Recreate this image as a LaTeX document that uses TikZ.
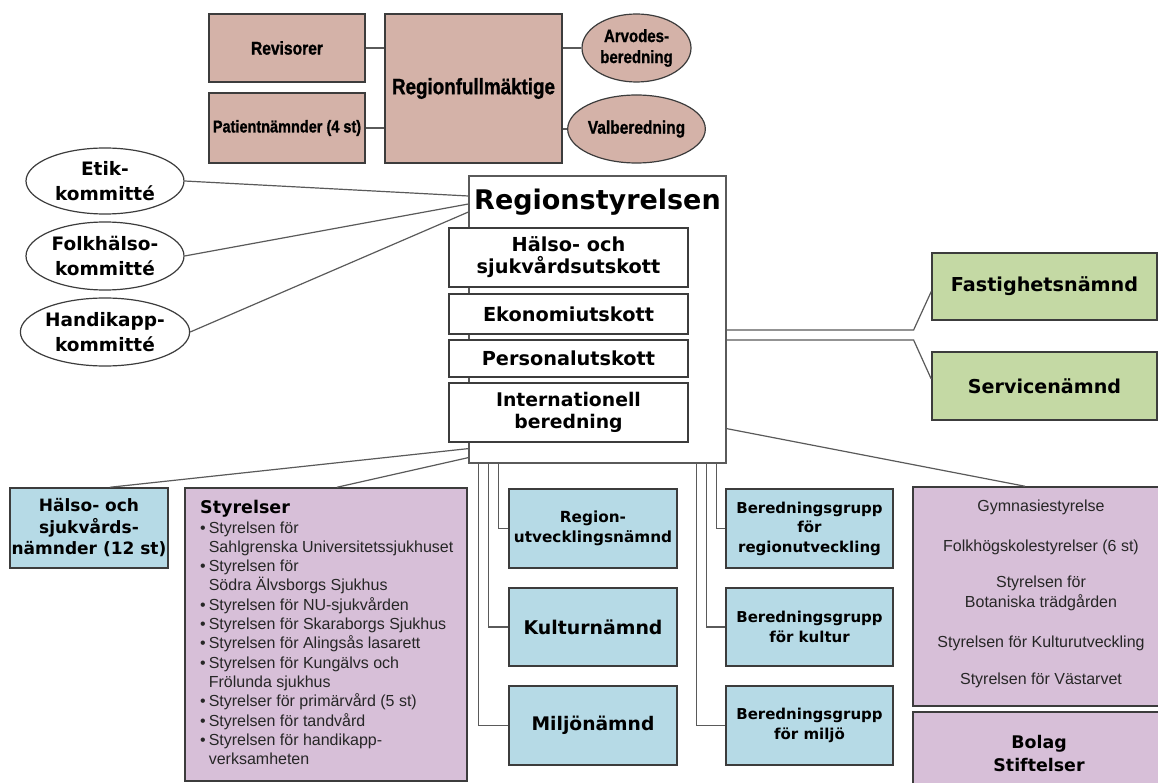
\documentclass[tikz,border=0pt]{standalone}
\usepackage{fontspec}
\usepackage{graphicx}
\usetikzlibrary{shapes.geometric,calc}
\newfontfamily\dv{DejaVu Sans}
\newfontfamily\lib{Liberation Sans}
\newfontfamily\libh{Liberation Sans}[BoldFeatures={FakeBold=1.2}]
\definecolor{cbrown}{HTML}{D4B2A8}
\definecolor{cgreen}{HTML}{C4D9A4}
\definecolor{cblue}{HTML}{B6DAE6}
\definecolor{cpurple}{HTML}{D7BFD8}
\definecolor{cline}{HTML}{5A5A5A}
\definecolor{cborder}{HTML}{3C3C3C}
\newcommand{\fsz}[2]{\fontsize{#1}{#2}\selectfont}
\newcommand{\tall}[1]{\scalebox{1}[1.18]{#1}}
\begin{document}
\begin{tikzpicture}[x=1pt,y=-1pt,
  box/.style={draw=cborder, line width=1.5pt, rectangle, inner sep=0pt, align=center},
  ebox/.style={draw=cborder, line width=1.2pt, ellipse, inner sep=0pt, align=center},
  conn/.style={draw=cline, line width=1.2pt},
  topfont/.style={font=\libh\bfseries\fsz{#1}{22}},
  bfont/.style={font=\dv\bfseries\fsz{#1}{21}},
]
\useasboundingbox (0,0) rectangle (1158,783);
\fill[white] (0,0) rectangle (1158,783);
\clip (0,0) rectangle (1158,783);

% top row
\node[box, fill=cbrown, minimum width=156, minimum height=68, topfont=15.6] (rev) at (287,48) {\tall{Revisorer}};
\node[box, fill=cbrown, minimum width=156, minimum height=70, topfont=14.5] (pat) at (287,128) {\tall{Patientnämnder (4 st)}};
\node[box, fill=cbrown, minimum width=177, minimum height=149, topfont=18.8] (rf) at (473.5,88.5) {\tall{Regionfullmäktige}};
\node[ebox, fill=cbrown, minimum width=109, minimum height=68, topfont=15] (arv) at (636.5,48) {\tall{Arvodes-}\\[-1pt]\tall{beredning}};
\node[ebox, fill=cbrown, minimum width=109, minimum height=68, topfont=15.5] (val) at (636.5,129) {\tall{Valberedning}};

% left ellipses
\node[ebox, fill=white, minimum width=158, minimum height=66, font=\dv\bfseries\fsz{18.5}{25}] (etik) at (105,181) {Etik-\\kommitté};
\node[ebox, fill=white, minimum width=158, minimum height=68, font=\dv\bfseries\fsz{18.5}{25}] (folk) at (105,256) {Folkhälso-\\kommitté};
\node[ebox, fill=white, minimum width=158, minimum height=68, font=\dv\bfseries\fsz{18.5}{25}] (handi) at (105,332) {Handikapp-\\kommitté};

% Regionstyrelsen
\node[draw=cline, line width=1.2pt, fill=white, minimum width=257, minimum height=287, inner sep=0pt] (rs) at (597.5,319.5) {};
\node[font=\dv\bfseries\fsz{27}{32}, inner sep=0pt] (rstitle) at (597.5,202) {Regionstyrelsen};
\node[box, fill=white, minimum width=239, minimum height=59, font=\dv\bfseries\fsz{19.3}{22}] (hsu) at (568.5,257.5) {Hälso- och\\sjukvårdsutskott};
\node[box, fill=white, minimum width=239, minimum height=40, font=\dv\bfseries\fsz{19.3}{22}] (eko) at (568.5,314) {Ekonomiutskott};
\node[box, fill=white, minimum width=239, minimum height=37, font=\dv\bfseries\fsz{19.3}{22}] (pers) at (568.5,358.5) {Personalutskott};
\node[box, fill=white, minimum width=239, minimum height=59, font=\dv\bfseries\fsz{18.8}{22}] (intl) at (568.5,412.5) {Internationell\\beredning};

% right green
\node[box, fill=cgreen, minimum width=225, minimum height=67, bfont=19.2] (fast) at (1044.5,286.5) {Fastighetsnämnd};
\node[box, fill=cgreen, minimum width=225, minimum height=68, bfont=19.1] (serv) at (1044.5,386) {Servicenämnd};

% bottom left
\node[box, fill=cblue, minimum width=158, minimum height=80, font=\dv\bfseries\fsz{17}{21.5}] (hsn) at (89,528) {Hälso- och\\sjukvårds-\\nämnder (12 st)};
\node[box, fill=cpurple, minimum width=282, minimum height=293] (styr) at (326,634.5) {};
\node[anchor=north west, inner sep=0pt, font=\lib\fsz{16}{19.3}, text=black!85] (styrtxt) at (200,500) {%
\begin{tabular}{@{}l@{\hspace{3pt}}l@{}}
\multicolumn{2}{@{}l@{}}{\dv\bfseries\color{black}\fsz{17.5}{19.3}Styrelser}\\
•&Styrelsen för\\
&Sahlgrenska Universitetssjukhuset\\
•&Styrelsen för\\
&Södra Älvsborgs Sjukhus\\
•&Styrelsen för NU-sjukvården\\
•&Styrelsen för Skaraborgs Sjukhus\\
•&Styrelsen för Alingsås lasarett\\
•&Styrelsen för Kungälvs och\\
&Frölunda sjukhus\\
•&Styrelser för primärvård (5 st)\\
•&Styrelsen för tandvård\\
•&Styrelsen för handikapp-\\
&verksamheten
\end{tabular}};

% middle columns
\node[box, fill=cblue, minimum width=168, minimum height=79, font=\dv\bfseries\fsz{15.3}{19.5}] (rut) at (593,528.5) {Region-\\utvecklingsnämnd};
\node[box, fill=cblue, minimum width=168, minimum height=78, bfont=18.9] (kult) at (593,627) {Kulturnämnd};
\node[box, fill=cblue, minimum width=168, minimum height=79, bfont=18.7] (milj) at (593,725.5) {Miljönämnd};
\node[box, fill=cblue, minimum width=167, minimum height=79, font=\dv\bfseries\fsz{15}{19.5}] (brut) at (809.5,528.5) {Beredningsgrupp\\för\\regionutveckling};
\node[box, fill=cblue, minimum width=167, minimum height=78, font=\dv\bfseries\fsz{15}{20}] (bkult) at (809.5,627) {Beredningsgrupp\\för kultur};
\node[box, fill=cblue, minimum width=167, minimum height=79, font=\dv\bfseries\fsz{15}{20}] (bmilj) at (809.5,725.5) {Beredningsgrupp\\för miljö};

% right bottom purple
\node[box, fill=cpurple, minimum width=256, minimum height=219] (gym) at (1041,596.5) {};
\node[font=\lib\fsz{16}{20}, text=black!85, align=center, inner sep=0pt] (gymtxt) at (1041,594) {Gymnasiestyrelse\\[20pt]Folkhögskolestyrelser (6 st)\\[16pt]Styrelsen för\\Botaniska trädgården\\[20pt]Styrelsen för Kulturutveckling\\[17pt]Styrelsen för Västarvet};
\node[box, fill=cpurple, minimum width=256, minimum height=88] (bolag) at (1041,756) {};
\node[font=\dv\bfseries\fsz{17.4}{23}, align=center, inner sep=0pt] (bolagtxt) at (1039,753.5) {Bolag\\Stiftelser};

% connectors top
\draw[conn] (rev.east) -- (rev.east -| rf.west);
\draw[conn] (pat.east) -- (pat.east -| rf.west);
\draw[conn] (arv.west -| rf.east) -- (arv.west);
\draw[conn] (val.west -| rf.east) -- (val.west);

% ellipses to Regionstyrelsen
\draw[conn] (etik.east) -- ([yshift=123.5pt]rs.west);
\draw[conn] (folk.east) -- ([yshift=115.5pt]rs.west);
\draw[conn] (handi.east) -- ([yshift=107.5pt]rs.west);

% green
\draw[conn] ([yshift=-10.5pt]rs.east) -- ++(187,0) -- ([yshift=-5pt]fast.west);
\draw[conn] ([yshift=-20.5pt]rs.east) -- ++(187,0) -- ([yshift=7pt]serv.west);

% bottom diagonals
\draw[conn] ([yshift=15pt]rs.south west) -- ([xshift=21pt]hsn.north);
\draw[conn] ([yshift=6pt]rs.south west) -- ([xshift=11pt]styr.north);
\draw[conn] ([yshift=35pt]rs.south east) -- ([xshift=-16pt]gym.north);

% vertical elbows
\draw[conn] ([xshift=30pt]rs.south west) |- (rut.west);
\draw[conn] ([xshift=20pt]rs.south west) |- (kult.west);
\draw[conn] ([xshift=10pt]rs.south west) |- (milj.west);
\draw[conn] ([xshift=-10pt]rs.south east) |- (brut.west);
\draw[conn] ([xshift=-20pt]rs.south east) |- (bkult.west);
\draw[conn] ([xshift=-30pt]rs.south east) |- (bmilj.west);
\end{tikzpicture}
\end{document}
